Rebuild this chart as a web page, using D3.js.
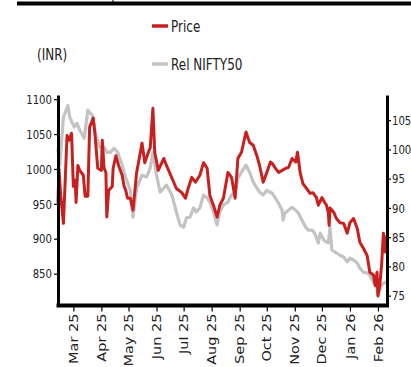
<!DOCTYPE html>
<html><head><meta charset="utf-8">
<script src="https://cdn.jsdelivr.net/npm/d3@7"></script>
<style>html,body{margin:0;padding:0;background:#fff;overflow:hidden}</style>
</head><body><svg id="c" width="411" height="367"></svg>
<script>
const priceDates = ["2025-02-12","2025-02-13","2025-02-15","2025-02-18","2025-02-20","2025-02-22","2025-02-24","2025-02-27","2025-03-01","2025-03-03","2025-03-04","2025-03-06","2025-03-08","2025-03-12","2025-03-14","2025-03-17","2025-03-19","2025-03-23","2025-03-25","2025-03-28","2025-04-01","2025-04-02","2025-04-04","2025-04-06","2025-04-07","2025-04-09","2025-04-13","2025-04-14","2025-04-17","2025-04-20","2025-04-24","2025-04-26","2025-04-28","2025-04-30","2025-05-03","2025-05-06","2025-05-10","2025-05-16","2025-05-19","2025-05-23","2025-05-25","2025-05-28","2025-05-30","2025-06-03","2025-06-09","2025-06-12","2025-06-18","2025-06-23","2025-06-29","2025-07-03","2025-07-06","2025-07-10","2025-07-14","2025-07-19","2025-07-23","2025-07-27","2025-07-30","2025-08-03","2025-08-07","2025-08-10","2025-08-14","2025-08-19","2025-08-23","2025-08-27","2025-08-30","2025-09-03","2025-09-08","2025-09-12","2025-09-16","2025-09-20","2025-09-23","2025-09-27","2025-10-01","2025-10-05","2025-10-07","2025-10-10","2025-10-14","2025-10-18","2025-10-22","2025-10-25","2025-10-29","2025-11-02","2025-11-04","2025-11-07","2025-11-10","2025-11-14","2025-11-18","2025-11-21","2025-11-25","2025-11-27","2025-12-01","2025-12-04","2025-12-06","2025-12-08","2025-12-09","2025-12-10","2025-12-14","2025-12-17","2025-12-21","2025-12-25","2025-12-29","2026-01-01","2026-01-05","2026-01-09","2026-01-12","2026-01-16","2026-01-20","2026-01-23","2026-01-27","2026-01-29","2026-01-31","2026-02-01","2026-02-03","2026-02-05","2026-02-07","2026-02-09","2026-02-11"];
const priceValues = [952,1001,962,922,984,1048,1041,1051,975,984,952,1005,998,991,961,961,1060,1073,1048,1001,998,1041,1001,995,931,969,975,1001,1019,1005,991,976,969,958,958,941,995,1037,1009,1024,1030,1087,1024,998,1015,1005,987,972,966,958,972,988,981,991,1009,1001,962,948,931,948,958,995,988,958,1015,1024,1053,1038,1034,1019,1005,981,995,1010,1008,1002,995,998,1001,1002,1015,1010,1024,994,979,972,965,966,959,948,959,952,948,938,919,944,938,929,923,922,908,923,929,915,895,886,876,852,848,833,852,818,833,862,908,881,905];
const relDates = ["2025-02-12","2025-02-14","2025-02-18","2025-02-23","2025-02-25","2025-03-02","2025-03-05","2025-03-08","2025-03-13","2025-03-17","2025-03-22","2025-03-26","2025-03-30","2025-04-04","2025-04-07","2025-04-11","2025-04-15","2025-04-19","2025-04-24","2025-04-28","2025-05-03","2025-05-06","2025-05-10","2025-05-16","2025-05-21","2025-05-25","2025-05-28","2025-06-01","2025-06-05","2025-06-09","2025-06-12","2025-06-18","2025-06-23","2025-06-27","2025-07-01","2025-07-04","2025-07-08","2025-07-12","2025-07-15","2025-07-19","2025-07-23","2025-07-27","2025-07-30","2025-08-03","2025-08-07","2025-08-10","2025-08-14","2025-08-19","2025-08-23","2025-08-27","2025-08-30","2025-09-03","2025-09-08","2025-09-12","2025-09-16","2025-09-20","2025-09-23","2025-09-27","2025-10-01","2025-10-07","2025-10-10","2025-10-14","2025-10-18","2025-10-19","2025-10-21","2025-10-25","2025-10-29","2025-11-02","2025-11-05","2025-11-09","2025-11-13","2025-11-16","2025-11-20","2025-11-23","2025-11-27","2025-11-29","2025-12-03","2025-12-08","2025-12-10","2025-12-12","2025-12-15","2025-12-21","2025-12-25","2025-12-29","2026-01-01","2026-01-05","2026-01-09","2026-01-12","2026-01-16","2026-01-20","2026-01-23","2026-01-27","2026-01-31","2026-02-01","2026-02-05","2026-02-09","2026-02-11"];
const relValues = [100.2,97.3,105.5,107.5,105.5,103.8,104.5,103.3,101.9,106.7,105.8,102.4,100.4,100.4,99.5,99.5,100.2,99.5,97.3,95.1,93.0,88.4,93.4,95.6,95.3,96.8,99.5,95.6,92.7,93.4,93.9,92.2,89.3,87.1,86.7,88.3,88.4,90.0,89.3,90.0,92.2,91.7,91.0,89.3,87.1,89.3,90.5,91.0,92.2,92.7,95.1,96.1,97.3,96.1,94.4,93.4,92.7,92.2,93.0,92.5,91.8,90.8,89.6,87.9,89.1,89.6,90.1,89.6,89.1,87.9,86.7,86.2,86.2,85.7,84.0,85.7,84.5,84.0,86.6,82.8,82.5,81.9,81.6,80.8,81.4,81.1,80.6,79.7,79.0,78.9,78.5,77.3,76.3,75.1,76.8,77.3,77.3];
const monthTicks = ["2025-03-01","2025-04-01","2025-05-01","2025-06-01","2025-07-01","2025-08-01","2025-09-01","2025-10-01","2025-11-01","2025-12-01","2026-01-01","2026-02-01"];
const leftTicks = [850,900,950,1000,1050,1100];
const rightTicks = [75,80,85,90,95,100,105];
const seriesNames = ["Price","Rel NIFTY50"];
const unitLabel = "(INR)";

const parse = d3.timeParse("%Y-%m-%d");
const svg = d3.select("#c");
const RED = "#c8201f", GRAY = "#c3c3c3";
const FONT = "DejaVu Sans, sans-serif";

const x = d3.scaleTime().domain([parse("2025-02-12"), parse("2026-02-11")]).range([58, 387]);
const yL = d3.scaleLinear().domain([805, 1106]).range([305, 95]);
const yR = d3.scaleLinear().domain([73.4, 109.3]).range([305, 95]);

// top rule
svg.append("line").attr("x1",17).attr("x2",411).attr("y1",3.5).attr("y2",3.5).attr("stroke","#000").attr("stroke-width",4);
svg.append("line").attr("x1",113).attr("x2",113).attr("y1",0).attr("y2",3).attr("stroke","#000").attr("stroke-width",1);

// legend
const leg = svg.append("g");
[[seriesNames[0], RED, 26, 31.5],[seriesNames[1], GRAY, 64, 69.5]].forEach(([t,c,ly,ty])=>{
  leg.append("line").attr("x1",152).attr("x2",168).attr("y1",ly).attr("y2",ly).attr("stroke",c).attr("stroke-width",3.5);
  leg.append("text").attr("transform",`translate(171,${ty}) scale(0.8,1)`).attr("font-family",FONT).attr("font-size",15).attr("fill","#222").text(t);
});
svg.append("text").attr("transform","translate(37,60) scale(0.8,1)").attr("font-family",FONT).attr("font-size",15).attr("fill","#222").text(unitLabel);

// lines
const relData = relDates.map((d,i)=>({d:parse(d), v:relValues[i]}));
const priceData = priceDates.map((d,i)=>({d:parse(d), v:priceValues[i]}));
svg.append("path").datum(relData).attr("fill","none").attr("stroke",GRAY).attr("stroke-width",3.2).attr("stroke-linejoin","round")
  .attr("d", d3.line().x(p=>x(p.d)).y(p=>yR(p.v)));
svg.append("path").datum(priceData).attr("fill","none").attr("stroke",RED).attr("stroke-width",3).attr("stroke-linejoin","round")
  .attr("d", d3.line().x(p=>x(p.d)).y(p=>yL(p.v)));

// axes
function style(g){
  g.select(".domain").attr("stroke","#000").attr("stroke-width",3);
  g.selectAll(".tick line").attr("stroke","#000").attr("stroke-width",1.2);
  g.selectAll(".tick text").attr("fill","#222").attr("font-family",FONT);
}
const gL = svg.append("g").attr("transform","translate(58,0)")
  .call(d3.axisLeft(yL).tickValues(leftTicks).tickFormat(d3.format("d")).tickSize(4).tickSizeOuter(0));
style(gL);
gL.selectAll(".tick text").attr("font-size",13).attr("x",-6/0.78).attr("transform","scale(0.78,1)");

const gR = svg.append("g").attr("transform","translate(387,0)")
  .call(d3.axisRight(yR).tickValues(rightTicks).tickFormat(d3.format("d")).tickSize(4).tickSizeOuter(0));
style(gR);
gR.selectAll(".tick text").attr("font-size",13).attr("x",5/0.78).attr("transform","scale(0.78,1)");

const gB = svg.append("g").attr("transform","translate(0,305.5)")
  .call(d3.axisBottom(x).tickValues(monthTicks.map(parse)).tickFormat(d3.timeFormat("%b %y")).tickSize(6).tickSizeOuter(0));
gB.select(".domain").attr("stroke","#000").attr("stroke-width",4).attr("d","M56.5,0H389");
gB.selectAll(".tick line").attr("stroke","#000").attr("stroke-width",1.2);
gB.selectAll(".tick text").attr("fill","#222").attr("font-family",FONT).attr("font-size",14.5)
  .attr("x",0).attr("y",0).attr("dy","0.35em").attr("text-anchor","end")
  .attr("transform","translate(0,8) scale(0.8,1) rotate(-90)");
</script></body></html>
